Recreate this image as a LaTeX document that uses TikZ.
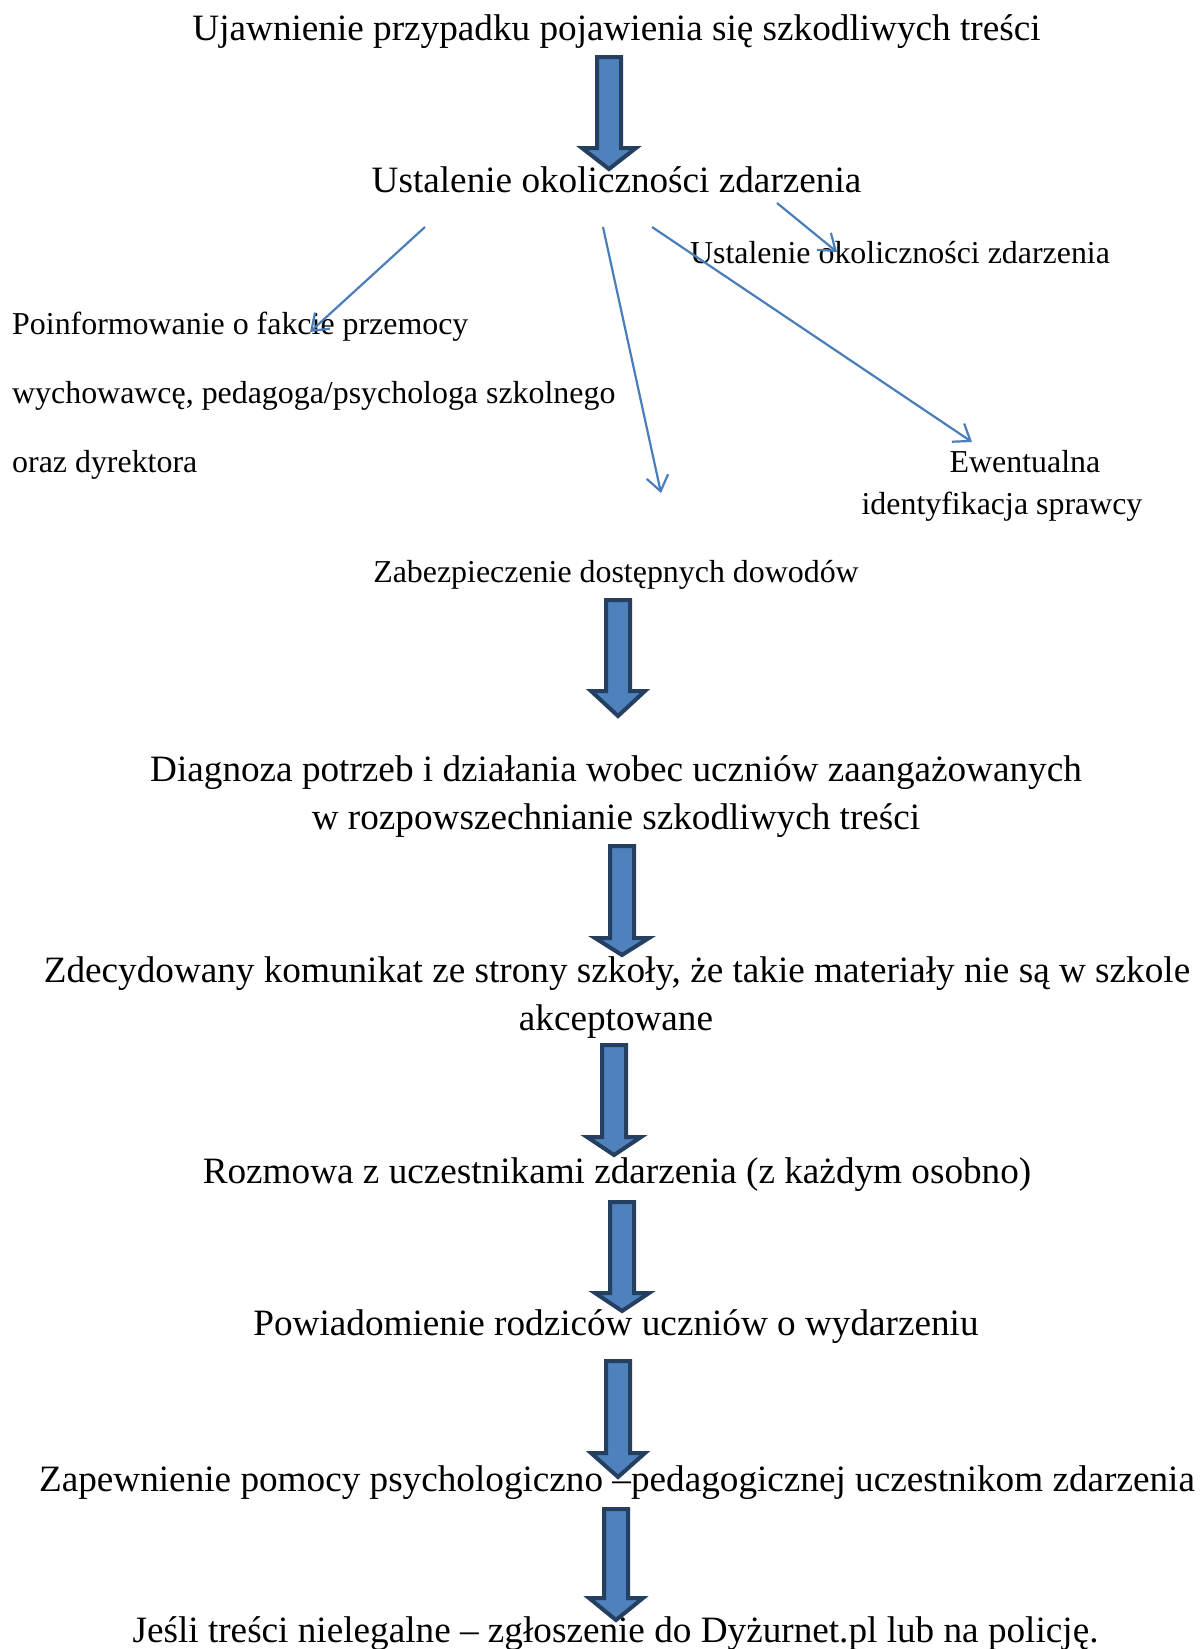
\documentclass[tikz,border=0pt]{standalone}
\usepackage{fontspec}
\setmainfont{Liberation Serif}
\usetikzlibrary{arrows.meta}
\definecolor{bfill}{HTML}{4F81BD}
\definecolor{bdraw}{HTML}{243F60}
\definecolor{thin}{HTML}{4A7EBB}
\tikzset{
  bigtxt/.style={inner sep=0pt, anchor=base, font=\fontsize{37.2pt}{44pt}\selectfont},
  smalltxt/.style={inner sep=0pt, anchor=base, font=\fontsize{31.9pt}{38pt}\selectfont},
  lefttxt/.style={smalltxt, anchor=base west},
  barrow/.style={fill=bfill, draw=bdraw, line width=4pt, line join=miter},
  thinarrow/.style={draw=thin, line width=2.2pt, -{Straight Barb[length=15pt,width=22pt,line width=2.2pt]}}
}
\newcommand{\myblockarrow}[4]{%
  \draw[barrow] (#1-12,#2) -- (#1+12,#2) -- (#1+12,#3) -- (#1+27,#3) -- (#1,#4) -- (#1-27,#3) -- (#1-12,#3) -- cycle;}
\begin{document}
\begin{tikzpicture}[x=1pt,y=-1pt]
\path[fill=white,use as bounding box] (0,0) rectangle (1200,1649);

% block arrows
\myblockarrow{609}{57}{148}{169}
\myblockarrow{618}{600}{691}{716}
\myblockarrow{622}{846}{938}{955}
\myblockarrow{614}{1045}{1137}{1155}
\myblockarrow{622}{1202}{1293}{1311}
\myblockarrow{618}{1361}{1453}{1477}
\myblockarrow{616}{1509}{1598}{1620}

% texts
\node[bigtxt] (t1) at (616.5,40) {Ujawnienie przypadku pojawienia się szkodliwych treści};
\node[bigtxt] (t2) at (616.5,192) {Ustalenie okoliczności zdarzenia};
\node[smalltxt] (t2b) at (900,263) {Ustalenie okoliczności zdarzenia};
\node[lefttxt] (l1) at (12,334) {Poinformowanie o fakcie przemocy};
\node[lefttxt] (l2) at (12,403) {wychowawcę, pedagoga/psychologa szkolnego};
\node[lefttxt] (l3) at (12,472) {oraz dyrektora};
\node[smalltxt] (e1) at (1025,472) {Ewentualna};
\node[smalltxt] (e2) at (1002,514) {identyfikacja sprawcy};
\node[smalltxt] (z1) at (616,582) {Zabezpieczenie dostępnych dowodów};
\node[bigtxt] (d1) at (616,781) {Diagnoza potrzeb i działania wobec uczniów zaangażowanych};
\node[bigtxt] (d2) at (616,829) {w rozpowszechnianie szkodliwych treści};
\node[bigtxt] (k1) at (617,982) {Zdecydowany komunikat ze strony szkoły, że takie materiały nie są w szkole};
\node[bigtxt] (k2) at (616,1030) {akceptowane};
\node[bigtxt] (r1) at (617,1183) {Rozmowa z uczestnikami zdarzenia (z każdym osobno)};
\node[bigtxt] (p1) at (616,1335) {Powiadomienie rodziców uczniów o wydarzeniu};
\node[bigtxt] (pp1) at (617,1491) {Zapewnienie pomocy psychologiczno –pedagogicznej uczestnikom zdarzenia};
\node[bigtxt] (j1) at (615.5,1642) {Jeśli treści nielegalne – zgłoszenie do Dyżurnet.pl lub na policję.};

% thin arrows
\coordinate (sa) at (425,227);
\coordinate (ea) at (310,332);
\coordinate (sb) at (603,227);
\coordinate (eb) at (661,493);
\coordinate (sc) at (652,227);
\coordinate (ec) at (972,442);
\coordinate (sd) at (777,203);
\coordinate (ed) at (837,252);
\draw[thinarrow] (sa) -- (ea);
\draw[thinarrow] (sb) -- (eb);
\draw[thinarrow] (sc) -- (ec);
\draw[thinarrow] (sd) -- (ed);
\end{tikzpicture}
\end{document}
